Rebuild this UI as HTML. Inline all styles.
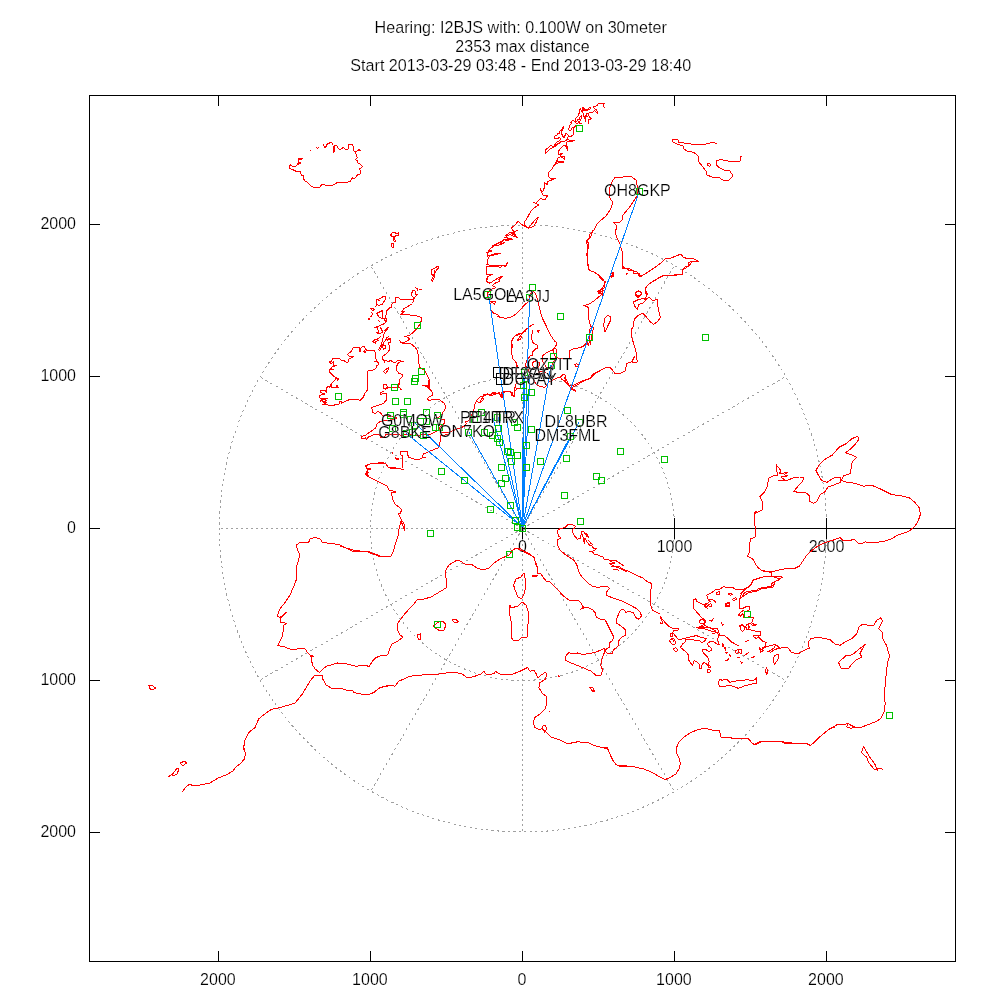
<!DOCTYPE html>
<html><head><meta charset="utf-8">
<style>
html,body{margin:0;padding:0;background:#fff;}
body{width:1000px;height:1000px;overflow:hidden;font-family:"Liberation Sans",sans-serif;}
svg{display:block;}
text{font-family:"Liberation Sans",sans-serif;font-size:16px;fill:#000;stroke:#fff;stroke-width:0.2px;}
svg{will-change:transform;}
.c{fill:none;stroke:#ff0000;stroke-width:1;stroke-linejoin:round;shape-rendering:crispEdges;}
.g{fill:none;stroke:#a0a0a0;stroke-width:1;stroke-dasharray:2 3;shape-rendering:crispEdges;}
.b{fill:none;stroke:#0080ff;stroke-width:1;shape-rendering:crispEdges;}
.s{fill:none;stroke:#00c000;stroke-width:1;shape-rendering:crispEdges;}
.k{fill:none;stroke:#000;stroke-width:1;}
</style></head><body>
<svg width="1000" height="1000" viewBox="0 0 1000 1000">
<rect width="1000" height="1000" fill="#fff"/>
<!-- TITLE -->
<g text-anchor="middle">
<text x="520.7" y="32.5" style="font-size:16.14px">Hearing: I2BJS with: 0.100W on 30meter</text>
<text x="522.5" y="51.5">2353 max distance</text>
<text x="520.8" y="70.5" style="font-size:16.15px">Start 2013-03-29 03:48 - End 2013-03-29 18:40</text>
</g>
<!-- FRAME -->
<g class="k" shape-rendering="crispEdges">
<rect x="89.5" y="95.5" width="866" height="866"/>
</g>
<!-- GRID -->
<g class="g">
<circle cx="522.5" cy="528.5" r="152" style="stroke-dasharray:2.2 3.3"/>
<circle cx="523" cy="528.5" r="303.5" style="stroke-dasharray:2.2 3.3"/>
<path d="M522.5 528.5L785.8 376.5" style="stroke-dasharray:2.31 3.46"/>
<path d="M522.5 528.5L674.5 265.2" style="stroke-dasharray:2.31 3.46"/>
<path d="M522.5 528.5L522.5 224.5" style="stroke-dasharray:2 3"/>
<path d="M522.5 528.5L370.5 265.2" style="stroke-dasharray:2.31 3.46"/>
<path d="M522.5 528.5L259.2 376.5" style="stroke-dasharray:2.31 3.46"/>
<path d="M522.5 528.5L218.5 528.5" style="stroke-dasharray:2 3"/>
<path d="M522.5 528.5L259.2 680.5" style="stroke-dasharray:2.31 3.46"/>
<path d="M522.5 528.5L370.5 791.8" style="stroke-dasharray:2.31 3.46"/>
<path d="M522.5 528.5L522.5 832.5" style="stroke-dasharray:2 3"/>
<path d="M522.5 528.5L674.5 791.8" style="stroke-dasharray:2.31 3.46"/>
<path d="M522.5 528.5L785.8 680.5" style="stroke-dasharray:2.31 3.46"/>
</g>
<path class="k" shape-rendering="crispEdges" d="M218.5 96V106M218.5 961V951M370.5 96V106M370.5 961V951M522.5 96V106M522.5 961V951M674.5 96V106M674.5 961V951M826.5 96V106M826.5 961V951M90 224.5H100M955 224.5H945M90 376.5H100M955 376.5H945M90 528.5H100M955 528.5H945M90 680.5H100M955 680.5H945M90 832.5H100M955 832.5H945M522.5 528.5H955M522.5 518V539M674.5 518V539M826.5 518V539"/>
<g text-anchor="end"><text x="76" y="228.8">2000</text><text x="76" y="380.8">1000</text><text x="76" y="532.8">0</text><text x="76" y="684.8">1000</text><text x="76" y="836.8">2000</text></g>
<g text-anchor="middle"><text x="217.9" y="985">2000</text><text x="369.9" y="985">1000</text><text x="521.9" y="985">0</text><text x="673.9" y="985">1000</text><text x="825.9" y="985">2000</text></g>
<g text-anchor="middle"><text x="522.5" y="552">0</text><text x="674.5" y="552">1000</text><text x="826.5" y="552">2000</text></g>

<!-- COAST -->
<path class="c" d="M323.5 144.5L324.5 147.5L325.8 147L327.5 143.5L331.5 142.5L333 145L333.2 152L334 152L334.5 145.5L336.8 145.8L338.5 149L340.5 149.2L343.2 147.5L345 149.2L348.5 149L348.5 144.5L352.2 144.5L353 146L354 151.2L356.5 151.2L359 149.5L360.5 150.5L357 151L355 153.2L356.5 154.5L357.2 157.5L355.5 159.8L357.5 160.5L358 163L360 164L362.5 166.5L359.5 169L360.5 171L360 174L357.5 175L354.5 178.5L352.5 177.8L350.5 181L348 182.2L337.5 182.5L332.5 185.3L325.5 185.3L324 184.5L321.5 184.8L319.5 187.5L313.5 187.5L311 186L307 182L305 181L303 178L304 176.2L302.5 175.5L301.5 175L300 171.5L297 171.5L295 170.8L292 169.2L289.5 168.5L289.2 167L290.5 164.5L292 166.2L295 166.5L298 164.5L297.5 163.5L301 163L298.5 162L299 160L301.5 159.8L302.5 158.8L298.5 158.5L298.5 160M316.2 147.5L317.5 148.5L318.5 147.5M310.3 150.5L310.7 150.5M390.5 235L392.5 232.5L395 232.5L397 234L398.5 233L398.5 235L396 235L395 236.5L394.5 239L395.5 241L394 241L393.5 237L392 236.5ZM391.5 243.5L393.5 244L393.5 247.5L392 247ZM438.5 265.5L438.5 268.5L436.5 269.5L435 273L434.5 277L432.5 281.5L431.5 280L433.5 276.5L432.5 274.5L431 274.5L431.5 272L432 269.5L434.5 268.5L436.5 267L438.5 265.5M434 269.5L434.5 273L433 276M412.5 290.5L415 291L415.5 294.5L417.5 294.5L415 297L414.5 299L412 296L411.5 294.5ZM415.5 287.5L417.5 289L418 291M419 290L422 289.2M395.5 298L398.5 297.5L400.5 299.5L414 299.5L412.5 303.5L409.5 305.5L404 308.5L402 311.5L404.5 311.2L403 312.5L400 315L404 314.2L408 314.5L412 315.5L419 316.2L421 317.5L421.5 320L420.5 323L419 325.5L416 329.5L412.5 333L409 335.5L404.5 336.5L407 337L410 339L407 341L404 342.5L401 342L399.5 340.5L401 342.5L404 344L408 343.2L411 344L415 347L417.5 351L418.5 356L418.5 361L419.5 367L421 368.5L424 370L426 373L429 378.5L429 383L430 386.5L428 386L424 385.5L428 386.5L429.5 390M395.5 298L395.5 302L393 303L391.5 305L392 308L389.5 307.8L387 310.5L386.5 314L385 317L386.5 319L386.2 322L383.5 324L380 325.5L375 327.5L377.5 328L378.5 332L376.5 333L380 333.5L383.5 331.5L387 328L388.5 327.5L384.5 332.5L383.5 336L382.5 340L381 345.5L378.5 350L380 350L382.5 344.5L384 345L382.5 347L383.5 349L385.5 348L385 345.5L383.5 344.5L384 342L386 340L388.5 339L390.5 340L391 342.5L388.5 343L389.5 347L389.5 350L386.5 353.5L382.5 356.5L383 359.5L384.5 362L385 360L388 361.5L391 360.5L393 362L396 362L398 360.5L403.5 361.5L400.5 361.5L398 363.5L396.5 366.5L396.5 370L398.5 373L402 374.5L402.5 376.5L400 379L399 382L399.5 384.5L398 385L399.5 387.5L401 390M376.5 300L380 298.5L383.5 296.5L385.5 296.5L385.5 299L382.5 304L379 305.5L376.5 304ZM378.5 300L380.5 300.5M375 306.5L377 305.8M370.5 308.5L373 308.2L374.5 309.5L372.5 310.5ZM371.5 312.5L372.5 314L371 317L370.5 316M368 318.5L369.5 318.5L369.5 319.5L368 319.5ZM376.5 313.5L382.5 310.5L382.8 318.5L379.5 317.5ZM382.8 318.5L386 318L384.5 320L386.2 322M378.5 320.5L379.5 322M380.5 327L381.5 330L383 331M372.5 342L375 339.5L377.5 339L381 336.5M373 342.5L376.5 341.5L378.5 340M375 344.5L375.5 341M386 338L388.5 336.5L385.5 340M387 340.5L390 338.5L391 342M383.2 371.5L388.5 367.5L388.5 369.5L385.5 373.5ZM353.5 347.5L359 347.5L360 348.5L359.5 352L360.5 351.5L361 350L360.5 348.5L362 347L364.5 346.5L365.5 349.5L364 351.5L365 352.5L366.5 350L373.5 350.3L375 351.5L375.8 358L376.5 361L374.5 361L376.5 361.5L378.5 362.5L378 365L376.5 366L376 368.5L373 370L369.5 370L367.5 371.5L368 378L367.5 390L364.5 394L363.5 397L361.5 399L360 400.5L356.5 399L355 399L353.5 400L349.5 399.5L344 402L341.5 403L341 401.5L339.5 401.8L339 404L334.5 405L327.5 405L325.5 404L323 404.5L326.5 402L322.5 402L327 400.5L324 399L320.5 401.5L322 399L327.5 398.5L324 398.5L319.5 398L320 395.5L323 394L325 394L320.5 392.5L321 390.5L325.5 390.5L326.5 392.5L326 389L328 386L329.5 387.5L331 384.5L331.5 387.5L335.5 387.5L337 385.5L338.5 387.5L331.5 387.5L331 384.5L334 381L336.5 378L339 379L337.5 380L336.5 378L334 376.5L331.5 374L329.5 372L329.5 369.5L333.5 369.5L331 368.5L332.5 366.5L336.5 365.5L333 365L333.5 362L331 363.5L329.5 362L331.5 361L332.5 358.5L339 358.5L342 360.5L344 360.5L346.5 362.5L348 362L348 359.5L352 357.5L353.5 356.5L349.5 356.2L347.5 354.5L351 351.5ZM399.5 380L400 381.5L398 384.5L399 387L401.5 389.2L399.5 387.5L388.5 387.2L386 389L384.5 390.5L380.5 393L380.5 394.5L383 393.5L386.5 393.5L387 398L386 400.5L383.5 403.5L379 405L374 406.5L371.5 408L372.5 410L372.5 412.5L375 413.5L378 411.5L380.5 413L383 416L386 415.5L390 416.5L394 417L397 418L394 419.5L390 420L380 421.5L377 424L375.5 428L370 432L365 435.5L361.5 436.5L362 438.5L365.5 438L366.5 439.5L368.5 437L373 435L379 434.5L381 437.5L384 438L385.5 434.5L392 434L398 434.5L402 435.5L408 434L410 434.5L415 435.5L420 435L430 434.5L435 432L439 430L440 427L443 425L445 422L444 419.5L440 419L437 418.5L438.5 417.2L441.5 415.5L442.5 413L444.5 410L445.8 407L444.5 403.5L440 400L433 399.5L429 400.5L427 399L429 397L432.5 395L432 392L430 389L427 386.5L423 385.5L427 386.5L429.5 387.5L428.5 384L428 380M383.5 384.5L386 384.5L387.5 387L386 388.5L383.5 388.5ZM449 434.5L440.5 435.5L440.5 440L439.5 445L438 448L430 451L423.5 454L422 457L425.5 458L423.5 457.5L419 459.5L414 459L409 457.5L407.5 454.5L407.5 451.5L400.5 451.5L401 455L402.5 456L402 469L403.5 469.5L398 468.5L395.5 468L393 468.5L390 468L388 467L386.5 464.5L383.5 462.5L380 462.5L377 463.5L372 463.5L368 464.5L365.5 466L367 468L371 469L367.5 469.5L367 471.5L368.5 473L365.5 473.5L366.5 475.5L369 477L371.5 478.5L375 480M393 452.5L392.5 454.5M395.5 458L398.5 458.5L398.5 459.5L396 459ZM605.2 108L604 106.8L603.2 105.2L604.4 103.6L598.4 103.6L597.2 105.2L595.2 106.4L593.2 106.8L594.4 108.4L596 109.6L598 112L597.2 113.2L595.6 111.6L594.4 110.4L592.8 112.4L590.4 112.8L588 113.2L586.4 114L587.2 116.8L585.6 116L585.6 121.6L584.8 117.6L583.2 115.6L583.6 113.6L582.4 112L583.2 110L584.8 110.8L588 110L590 109.2L590.4 107.6L588.8 108L587.2 109.6L584.8 109.6L583.6 108L582 107.2M588 113.2L588.8 116L590 117.6L591.2 118.8L590 120L588.8 119.2L588.4 123.6L588 120M582 107.2L583.2 109.2L581.6 111.2L580.4 108.8L579.2 110L580 111.6L578.8 114L577.6 116.8L576 118L575.2 120.4L576.4 121.6L577.6 120L579.2 119.6L580 116.8L581.6 115.2L581.2 118.4L580 120.8L578.4 122L580 123.6L581.6 124L578.8 122.8L576.4 123.2M576.4 123.2L575.2 121.6L572.8 120.4L570.8 122L571.6 123.6L569.6 125.2L569.2 127.6L568.4 129.6L570.8 130.8L572 128L573.6 127.6L575.6 125.6L573.6 128.8L573.6 132L573.2 134.8L571.6 136L568.8 136.4L567.6 134.4L566 133.2L564.8 136L564 137.6L562.4 136L561.6 132.8L562 130.4L563.2 128.8L564 127.6L563.2 126.4L562 129.6L560 131.2L559.6 133.6L557.6 133.2L556.8 135.2L554.8 136L554.4 138L557.2 138.4L560 137.6L560.8 139.6L559.2 140.8L556.4 142.4L554.8 144L555.6 146L557.2 144.8L559.2 143.2L560.4 142L564 141.6L566 140.4L568 137.6L567.6 139.6L570.8 140.8L575.2 140L570.8 142L567.6 141.6L566 143.2L566.4 145.6L568 147.2L567.6 150.4L566.8 148L565.6 145.6L564 145.2L562.4 146.8L560.8 148.4L559.2 150L558.4 152L558.8 154.4L560.8 153.6L562.4 153.2L560.4 154.8L561.6 156.8L564 156.4L564.4 159.6L562.8 157.6L560 156.8L558 158L556.8 160.8L559.2 161.6L563.6 162L559.2 162.8L556.4 163.2L554.4 164.8L554 166M559.2 143.2L556 144.4L554 146.4L550.4 145.6L548.4 148L546.4 148.8L545.2 151.2L545.6 153.2L548 151.2L550.4 148.8L553.2 147.2L555.2 146M557 161.2L554 165L551.7 169.5L548.7 172.5L548.7 177L551.7 179.2L555.5 178.2L551.7 180L548 181.5L547.2 184.5L544.2 182.2L545 186L542.7 192L540.5 189L542.7 195L548 195L545 199.5L540.5 198.7L536 203.2L533.7 202.5L539 204.7L534.5 207.7L530.7 211.5L527 218.2L524 222.7L525.5 225.7L528.5 228L534.5 220.5L538.2 217.5L536.7 221.2L533.7 226.5L528.5 228L522.5 225L518 221.2L515 225L511.2 228L513.5 231L516.5 237L513.5 233.2L509.7 232.5L506 235.5L509 240L512.7 239.2L504.5 239.2L501.5 241.5L497 243.7L492.5 246M717 143.4L712 142.4L706 144L694 144.4L684 143L678 142.4L678 139.6L672 139.6L672 141.6L677 144L683 146L684 149L687 151L694 152.4L698 156L699 162L702 166L706 171L707 175L712 177L718 177L723 180L729 180L733 176L730 171L725 170.4L720 168L716 165L717 160.4L721 159.6L728 161L736 162L740 161L740 157L742.4 156M707.6 163.6L710.4 164L710 166.4L708 165.6ZM638 190L636 180L631 176.4L623 177L615 177.6L613 180L610 187L609 194L610 198L613 203L610 210L606 216L600 221L597 224L594 230L590 234L589 239L586.4 241L588 248L587 254L587.6 262L589 270L596 273L601 277L605 282L604 288L600 291L598 294L602 293L603 296M638 190L637 196L633 202L629 208L623 215L622 220L619 223L613 222.4L616 225L617 227L615 232L617 238L620 244L622 251L622.4 260L623 266L622 268L627 268L629 271L633 270L634 274L639 273L640 277L645 274L651 270L657 266L662 262L665 259L671 258L676 256L681 254L683 257L688 259L693 258.4L699 261.6L692 262L689 266L685 267L682 270L682 274L674 275L666 275L660 277L654 281L649 284L646 287L645 291L647 296M611 273L613 274L612 277L610 276ZM626 274L628 273M635 293L639 291L642 293L640 296L637 295.6ZM517.7 230L514 232.2L511 233L514 235.2L517.7 237.5L513.2 236L509.5 234.5L505 237.5L511.7 239L508 240.5L503.5 239.7L500.5 243.5L505 242.7L499 245L496 245L492.2 247.2L488.5 250.2L491.5 251L487 252.5L487.7 256.2L494.5 254L500.5 253.2L496 254.7L490 255.5L487.7 259.2L487 264.5L490 265.2L496 265.7L505 266L508 262.2L505.7 266.7L502 265.2L500.5 267.5L496 266L490 266.7L486.2 266L487 270.5L486.2 275L492.2 274.2L487.7 276.5L487 280.2L486.2 278L487 281.7L490 283.2L494.5 280.2L499.7 277.2L502.7 276.5L499 279.5L499.7 281.7L496 282.5L492.2 285.5L496 287.7L491.5 289.2L489.2 291.5L487 293.7L487.7 297.5L489.2 300.5L492.2 302L496 301.2L494.5 304.2L491.5 302L490 305L490 309.5L493.7 313.2L497.5 314.7L499.7 317L497.5 316.2L500.5 317.7L506.5 318.2L511 317L516.2 314L520 310.2L523 306.5L526 303.5L528.2 302L529.7 296L531.2 293L533.5 291.5L535 293L536.5 296L538 302L539.5 308L541 314L543.2 320L546.2 326L548.5 331.2L551.5 336.5L554.5 341L556 341.7L556 345.5L553.7 348.5L553.7 352.2M569.5 350.7L574 348.5L580 347.7L584.5 345.5L586.7 341.7L588.2 345.5L589.7 341L589 335L589.7 329L593.5 327.5L590.5 326L589 320L588.2 314L589 309.5L587.5 306.5L583.7 305.7L589 304.2L593.5 301.2L598 297.5L601.7 294.5L603.2 290L600.2 292.2L598 291.5L602.5 287.7L604.7 284L605.5 281.7L601.7 279.5L598 275L594.2 272L589.7 270.5L588.2 267.5L587.5 260L586.7 254L588.2 248L588.2 242.7L586.7 240.5L590.5 237.5L592 233L592.7 230M593.5 327.2L592 335L590.2 344.7M604.7 318.5L607.7 315.5L610 316.2L610.7 320L607.7 326L606.2 329.7L604.7 332L603.7 324.5ZM534.2 323.7L530.5 326L526.7 329L523 332.7L517 334.2L513.2 338L511.7 341.7L512.5 348.5M523 332.7L520 336.5L517 341L520 339.5L522.2 335.7M537.2 330.2L539.2 330.8L538.3 332.7ZM525.6 331.2L519.6 334.2L514.8 336L511.8 340.8L511.2 348L511.8 354L513 358.8L516 362.4L517.2 366L516 369.6L516 375.6L517.2 381.6L515.4 385.2L514.8 388.8L514.2 395.4L511.8 396L511.8 393L509.4 391.4L501.6 392.4L501.6 397.8L501 396L498 393L492 395.4L487.2 394.8L483.6 395.4L481.8 399L480 402M532.8 330L531.6 336L532.2 342L534.6 343.8L537 345L537.6 348L535.2 349.2L532.8 351.6L532.8 355.2L530.4 355.8L528 358.8L526.2 361.2L525.6 366L528 369.6L530.4 374.4L532.8 378L535.2 382.8L537.6 385.8L541.2 386.4L544.8 387.6L547.2 384L549.6 381.6L552 380.4L556.8 378L560.4 377.4M561.6 375.6L564 373.8L565.8 376.2L564.6 378L566.4 379.8L564 380.4L561.6 379.2L560.4 377.4ZM566.4 379.8L568.8 385.2L572.4 385.8L580.8 381.6L590.4 378L595.2 373.2L600 371.4M568.8 386.4L572.4 388.8L575.4 390L575.4 391.2L570 388.8M542.4 355.8L547.2 352.2L552 350.4L554.4 348L556.8 349.8L556.8 354L555 358.8L552 364.8L550.2 368.4L546.6 368.4L544.8 364.8L542.4 361.2ZM553.8 352.3L554.4 355.8L558 358.2L564 358.8L569.4 358.2L569.5 350.8M574.8 364.8L576.6 363.6L578.4 364.8L577.8 366.6L576 367ZM532.8 362.4L536.4 360.6L539.4 363L538.8 367.2L535.2 368.4L532.8 366ZM537.6 372L542.4 371.4L546 372.6L542.4 373.8L537.6 372M698.7 261.8L694.2 261.5L689 262.2L688.2 266L686 268.2L682.2 269.7L683 274.2L677 275L671 275.7L662.7 275.7L657.5 278.7L653 281L649.2 284L646.2 287L645.5 290.7L647.7 293.7L646.2 296.7L644.7 299.7L649.2 297.5L652.2 300.5L657.5 299.7L657.8 306.5L659 311.7L660.5 317.7L657.5 321.5L653.7 324.5L650 321.5L647 317.7L642.5 313.2L638 315.5L634.2 319.2L633.5 326L631.2 329.7L632 338L634.2 345.5L636.5 353.7L637.2 362L632 362L635 356L631.2 362L626.7 363.5L625.2 371L620.7 373.2L615.5 374L612.5 370.2L609.5 367.2L605 368L599 371L592.2 374.7L590.7 378.5L584 380.7L578 384.5L572 387.5L575 391.2L571.2 388.2L568.2 385.2L565.2 381.5L563 380M635 293L638.7 290.7L641.7 292.2L641 295.2L638 297.5L635.7 295.2ZM633.5 302L638 299.7L644 298.2L646.2 299.7L642.5 303.5L638.7 304.2L637.2 309.5L635 306.5L634.2 304.2ZM610.2 273.5L613.2 272.7L614 275.7L611.7 277.2ZM622.2 266L625.2 268.2L629.7 269L633.5 271.2L637.2 272L638.7 275.7L641.7 275M626 274.2L628.2 273.5M439.6 432.8L448 432.8L456.4 429.2L464.8 426.2L466.6 423.2L464.8 422L468.4 420.8L470.8 417.2L473.8 410L475 404L476.8 400.4L480.4 396.8L486.4 395L493.6 393.8L499.6 392.6L500.8 396.8L502 398L502 391.4L509.2 391.4L512.8 393.2L512.2 395.6L514 396.8L514.6 392L516.4 389L520 388.4M476.8 401L479.2 402.8L482.8 400.4L484 398M482.8 395L487.6 393.8M491.2 393.2L496 392M365 466L370 464L380 463L386 464L388 467L396 468L401 469L403 469.6M365 466L368 469L366 473L369 477L375 480L381 483L387 486L389 490L393 491L396 492L391.6 493L392.4 499L395 504L400 508L401.6 510L400 514L398 513L401 519L404 524L405 531L403 526L401 521L399 529L398 536L396 542L393 552L391 556L383 557L375 554L367 551L360 551L353 550L346 548L340 546M366 468L371 469L367 470M540 573L538 573L537 566L534 558L530 554L524 551L519 548L514 549L509 555L500 559L494 563L489 568L483 570L477 568L471 564L465 564L460 561L457 560L449 565L446 570L445.6 576L447 582L446 588L441 591L431 597L424 599L417 600L414 604L410 608L403 616L398 623L397.6 630L400 635L403 637L398 641L392 644L389 650M524 573L525 578L526 586L524 594L521.6 599L518 597L515 590L513.6 585L516 579L521 577ZM522 602L526 605L529 614L528 624L527 637L521 638L518 641L513 640L511 637L512 626L510 616L509 608L510 605L511 608L518 606ZM433 626L438 622.4L443 621L446 625L444 630L440 631L437 629ZM452 620L456 619.6L458.4 622L455 623ZM417 635L421 633.6L420 637L421 640L418.4 639ZM532 576L537 576M390 556.2L381.2 557L372.5 553.8L366.2 551.2L352.5 551.2L338.8 544.5L322.5 542.5L320 538.8L315 537.5L310 538.8L308.8 542L300 542.5L296.2 545L297.5 550L299.5 553.8L298.8 560L297 565L296.2 580L293.8 586.2L290 595L285 602.5L280 608.8L277 616.2L280 617.5L286.2 612.5L280 618.8L280 622.5L284.5 622.5L286.2 623.8L283.8 625L282.5 636.2L280 641.2L277.5 645.8L282.5 646.2L292.5 650L297.5 648.8L305 648.8L307.5 652.5L310 655L313.2 656.2L310.8 656.2L312.5 665L315 668.8L319.5 672.5L326.2 666.2L331.2 665L337.5 663L346.2 663.8L356.2 666.2L366.2 665L368.8 667L372.5 661.2L376.2 657.5L381.2 655.5L387.5 655L390 648.8M243.2 750L245 740L248.8 732.5L255 727.5L258.8 718.8L265 713.8L271.2 709.5L280 707.5L295 703.2L302.5 693.8L310 681.2L314.5 675.5L322 675L322.5 678.8L326.2 685L332.5 688.8L342.5 688.8L346.2 690L352.5 690L353.8 692.5L360 693.8L367.5 695L373.8 692.5L380 687.5L390 685.5M148.8 685.8L152.5 685.5L155.5 688L152.5 690L150 688.8ZM244 748L245.6 754L244.4 759L240 764L236 767L233 771L226 775L218 778L210 783L200 785L194 785.6L189 784.4L185 788L182.4 791.6M180 763L185 761L186.4 763L183 765.6ZM172 775L177 768L179 769L177 774L173.6 776ZM168 777L172 774.4M380 687.5L390 685L395 686.2L398.8 681.2L410 676.2L422.5 675L435 674.5L450 672.5L461.2 673.2L467.5 678L475 676.2L481.2 673.8L483.8 671.2L486.2 674.5L493.8 673.8L495.5 671.2L498.8 673.8L505 675L512.5 674.2L520 671.2L527.5 667.5L530 671.2L533.8 670L536.2 673.8L537.5 678L541.2 675L545 672.5L547 673.8L545 679.5L540 682.5L538.8 687.5L542.5 693.8L546.2 696.2L547 702.5L545 708.8L540 713.8L535 717.5L533.2 722.5L535 727.5L538.8 729.5L542.5 728.8L542.5 726.2L545 725.5L547 728.8L544.5 732L542.5 728.8L547.5 733.8L551.2 737L560 740L567.5 743.8L577.5 741.8L587.5 742.5L596.2 746.2L607.5 748.8L611.2 756.2L613.8 762L617.5 765.5L630 766.2M565 657L568.8 652.5L572.5 653.8L577.5 653L582.5 654.5L595 652.5L603.8 648.8L606.2 649.5L603.8 653.8L602 658.8L600.8 665L602.5 670L601.2 675L596.2 675.5L591.2 671.2L582.5 667.5L575 664.5L568.8 662L565 660ZM558.2 675.8L559.5 677M589.5 687.5L593 688L594.5 691.2L592 690.5ZM548.8 710.8L550 711.8M600 747.6L607.6 748L609 752L612 759L616 764.4L619 766L632 766.4L644 769L652 772.4L660 777L665 779.6L669 778L676 774L679 769L680.4 763L679 758L677 754L676.4 748L679 742L684 737L691 732.4L698 729.6L705 728.4L712 730L719.6 731L721 737L724 738L730 737.4L734 739L740 738L748 738L751 742L754 744.4L760 741.6L770 741L782 741.4L786 743L791 742.4L794 744L800 743.2M510 551.7L516 548.3L522.7 551L528 554L534 557L535.5 563L537.7 569L537.7 573.5L540.7 573.5L543.7 578L546.7 581.7L549.7 581.7L555 587L559.5 591.5L562.5 595.2L569.2 600.2L578.2 600.2L581.2 603.5L583.5 607.2L580.5 609.2L584.2 607.7L588.7 608L592.5 609.5L595.5 613.2L596.2 617L600.7 619.2L605.2 620L607.5 624.5L610.5 630.5L613.5 636.5L612.7 640.2L609 643.2L609 647.7L603.7 650M532.5 575.4L537 575.4L537 576.2L532.5 576.2L532.5 575.4M613.5 650L618 646.2L618.7 641L621.7 637.2L625.5 635L625.5 629.7L621 626L616.5 623L616.8 618.5L619.5 611.7L621.7 609.5L624.7 610.2L625.5 612.2L630 611.7L633 612.5L636 617.7L639 619.2L641.2 616.2L640.8 612.5L636.7 608.7L630 605L622.5 601.2L613.5 598.2L606 595.2L606 593L609.3 588.5L607.5 586.7L603 586.2L598.5 587.3L593.2 586.7L588 583.2L582 577.2L579.3 572.7L576.7 564.5L573.7 560L565.5 554.7L560.2 550.2L557.2 544.2L557.7 539.7L561 538.2L558.7 536L557.2 530.7L560.2 528.5L564.7 527.7L567.7 524.7L572.2 524.7L575.2 526.2L574.5 528.5L572.2 529.2L573 533L575.2 536.7L577.5 539.3L580.5 538.2L581.2 533.7L582 531.5L584.2 531.5M582 533.7L583.5 539L584.2 543.5L585 538.2L587.2 542L589.5 545L591.7 545.7L594 548.7L597 548L594.7 550.2L591.7 551.7L594 554L597.7 554.7L600 556.2L603 557L604.5 560L608.2 559.2L612 562.2L615 563L609.7 563.7L613.5 566L618 566L621.7 568.2L626.2 570.5L628.5 571.2L633 573.5L637.5 575.7L642.7 578L647.2 581.7L651 583.2L651.7 587L650.2 591.5L651 597.5L650.2 603.5L651.7 608L652.5 610.2L657 612.5L660 613.7M584.2 532.2L587.2 534.5L588.7 537.5L586.5 536L584.2 532.2M588 539.7L591 543.5L593.2 545M589.5 551L594 552.5M609.7 560.7L615 560L619.5 563L624 566M611.2 566L618 567.5L622.5 569.7L627 572M613.5 569L618.7 570.2M603.7 650L605.5 651.2L607.7 653.5L612.2 653.9L613.4 650M589.7 687.2L592.7 687.7L594.7 690.7L592.7 691.7L591.2 689.5ZM660 616.2L662.4 619.2L665.4 622.8L669.6 627L673.2 628.8L678 628.4L678 630L673.8 630.6L672.6 632.4L675 635.4L677.4 638.4L679.2 639.6L682.2 639L684.6 638.4L688.8 637.2L693 636.6L696 635.4L700.2 637.2L706.2 638.4L705.6 640.2L702 642.6L699.6 640.8L694.8 640.2L690 639L685.8 639.6L685.2 642L682.2 644.4L680.4 647.4L683.4 649.8L687.6 653.4L688.8 656.4L688.2 659.4L690.6 663L692.4 665.4L694.2 660.6L696.6 661.8L699 664.2L699.6 668.4L701.4 668.4L702 664.8L703.8 662.4L706.2 663.6L708 665.4L709.2 661.2L708 657.6L705.6 655.2L703.2 652.8L702.6 649.8L706.2 649.8L708.6 651.6L711.6 650.4L711 648L708.6 646.2L707.4 643.2L710.4 641.4L714 642L717.6 644.4L719.4 645L717.6 639.6L718.8 634.8L717 632.4L711.6 631.2L704.4 628.8L698.4 628.2L696.6 627.6L700.8 626.4L704.4 624L706.2 621L701.4 617.4L697.2 612.6L693.4 608.4L693.6 600L696 598.8L696 600.6L699.6 603L703.8 604.8L705.6 607.2L707.4 608.4L705 604.2L708 603L710.4 601.2L708.6 600L707.4 597.6L706.8 595.2L710.4 593.4L714 591L716.4 589.2L720 589.2L723 586.8L727.2 587.2L732.6 587.4L736.2 589.8L740.4 589.8L745.2 588.6L748.8 586.8L751.8 583.8L753 580.2L757.8 578.4L762.6 577L771 576L771.6 573L766.8 571.2L760.8 570.6M771.6 576L775.8 577.8L779.4 578.4L780 579.6L776.4 580.8L772.8 582.6L771 585L774 585.6L770.4 586.2L765.6 587.4L760.8 588L758.4 591L754.8 590.4L751.2 591L746.4 591.6L743.4 594L741.6 597.6L739.8 599.4L739.2 603.6L739.8 608.4L742.8 608.4L746.4 606.6L750 606.6L749.4 609.6L746.4 611.4L742.8 610.8L740.4 612.6L738.6 615L740.4 616.2L742.8 613.8L744 617.4L750 616.8L752.4 617.4L754.2 618L752.4 619.8L751.8 622.8L754.2 624.6L757.2 624L754.8 625.8L752.4 625.2L750 622.8L748.2 624L749.4 627L748.2 629.4L751.2 630L756 631.2L760.2 631.8L760.2 635.4L757.8 636L762 640.8L766.2 642.6L765 646.8L762.6 648L763.2 650.4L760.8 652.2L759.6 648L762 649.8L765.6 646.8L770.4 645.6L775.8 644.4L774.6 647.4L771.6 649.8L768 651.6L770.4 652.2L774.6 649.8L778.8 648L780 648M745.2 588.6L742.8 591.6L740.4 595.8L739.8 599.4M716.4 592.2L719.4 591.8L719.4 594.6L716.4 594.6ZM728.4 594L730.8 593.4L732.6 594.6L730.2 595.4ZM725.4 603.6L729.6 602.4L729.6 606L725.4 606.6ZM726 604.2L729 603.6L729 605.4L726 605.8M732.6 599.4L735.6 597.6L736.8 598.8L733.8 600.6ZM708.6 600L711.6 599.4L714 600.6L715.8 602.4M703.8 604.8L706.2 603.8L707.4 606L705.6 607.8ZM708.6 604.2L711 603.8L711.6 606L709.2 606.6ZM709.2 621L711.6 620.4L713.4 618.6L711 622.2M721.2 622.2L722.4 625.2L724.2 624.6M696.6 627.6L701.4 627.4L708 627.6L712.8 628.2L717.6 628.8L718.8 632.4L720 635.4L723 636M701.4 626.4L705.6 625.8L711.6 628.8L715.8 631.2L714.6 633.6L711.6 633M699.6 620.4L702 619.4L704.4 621L703.8 623.4L700.8 624L699.4 622.4ZM720 635.4L724.8 636L728.4 638.4L732 642L735.6 644.4L738.6 645.6L736.8 646.2M727.2 637.8L730.8 641.4L733.8 643.8M739.8 625.8L742.2 624.6L744 626.4L744.6 629.4L742.8 631.4L741 630ZM746.4 624L748.8 624.6L748.2 627.6L749.4 629.4L747 630L745.8 627ZM753 636L757.2 635.4L759 636.6L756 638.4ZM745.4 642L749.4 639.6M744 655.8L748.8 652.2M751.2 657.6L754.8 656.4L753 658.2M722.2 643.8L723.6 644.4L723 646.8ZM724.6 647.4L725.8 648L725.4 650.4ZM725.4 652L727.2 652.2L726.6 653.4ZM729 654.6L730.8 656.4M725.4 661.2L728.4 658.8L727.2 660.6M735.4 650.4L738 649.8L738.6 652.8L736.2 653.4ZM738.6 649.4L741.6 649.2L741.6 653.4L739.2 652.8ZM737.4 657L740.4 657.6M739.8 661.8L742.8 662.4L741 663.6M773.4 658.2L775.2 655.2L778.8 654L778.8 657.6L776.4 661.8L774.6 664.2L773.4 661.2ZM766.2 667.8L767.4 669.6L768 673.2L766.8 674.4L765.6 671.4ZM718.4 682.2L720 679.4L722.4 680.4L724.8 679.4L727.2 679.8L729.6 682.2L734.4 681.6L738 680.4L744 680.2L748.8 679.4L750 681L754.8 679.8L756.6 678L756.6 683.4L752.4 684L750 684.6L744 685.8L741.6 687.4L738 688.2L734.4 686.6L730.8 685.8L727.2 685.8L723.6 686.6L720 687L718.8 684.6ZM707.4 669.6L709.8 669.4L711 671.4L708.6 673L707 671.4ZM708 665.4L709.8 665.4L710.4 667.2L708.6 667.4ZM670.6 633.6L672.6 633L673 636L670.8 636.6ZM669.6 640.8L671.4 638.4L674.4 639L675.6 643.2L673.8 645L671.4 643.8ZM671.4 639.6L673.8 640.2L673.2 642M673.8 648.6L675.6 647.8L678 649.8L676.2 651.6L674.2 650.6ZM660 617.4L661.8 620.4L663 624L660.6 623.4L660 621.6M771.9 571.6L763.1 571.2L758.7 568.3L755.4 563.9L753.2 559.5L747.7 556.2L749.9 550.7L749.2 544.1L751 538.6L755 537.5L755.8 532L754.3 521L754.3 512.2L756.5 511.1L755 513.3L762 510L762 501.2L759.8 496.8L764.2 492.4L767.5 485.8L768.6 478.1L773 475.9L777.4 475.9L776.3 464.9L780.7 470.4L779.6 473.7L787.3 472.6L784 474.8L787.3 475.9L780.7 477L785.1 480.3L778.5 481L787.3 480.3L792.8 478.1L799.4 477L803.8 477.4L802.7 481.4L798.3 485.8L793.9 491.3L799.4 492.8L806 492.8L809.3 495.7L809.3 501.2L813.7 503.4L817 501.2L820.3 494.6L824.7 492L828 486.9L834.6 484.7L840.1 482.5L840.1 477.4L833.5 478.1L826.9 482.5L821.4 480.3L818.1 474.8L815.9 470.4L819.2 464.9L824.7 459.4L832.4 455L839 447.3L845.6 444L852.2 438.5L857.7 436.3L858.8 439.6L855.5 444L850 449.5L845.6 452.8L852.2 455L856.6 457.2L852.2 461.6L851.1 468.2L850 473.7L843.4 475.9L841.2 480.3L847.8 482.5L854.4 483.2L863.2 486.2L872 485.4L880.8 489.1L891.8 494.6L900.6 495.7L909.4 497.9L914.9 502.3L919.3 507.8L920.4 514.4L918.2 521L914.9 526.5L908.3 531.6L898.4 534.7L891.8 538.6L884.1 541.3L872 543L865.4 541.9L859.9 544.1L856.6 541.9L854.4 539.1L848.9 540.8L843.4 540.8L840.1 537.5L834.6 539.7L826.9 541.9L818.1 545.7L810.4 551.8L806 556.2L799.4 566.1L795 568.3L784 569ZM771.9 571.6L771.9 576L762 577.1L753.2 580.4L749.9 585.9L744.4 590.3L740 593.6M771.9 576L782.9 577.1L775.2 581.5L773 587L766.4 588.1L759.8 589.2L758.7 588.1L756.5 591.4L748.8 592.5L742.2 596.9L740 599.1M776.3 644.9L779.6 648.2L787.3 647.1L791.7 652.6L798.3 653.7L803.8 650.4L809.3 648.2L808.2 642.7L810.4 639L817 637.2L823.6 638.3L830.2 639.8L834.6 643.8L840.1 645.3L845.6 641.6L852.2 638.3L856.6 633.9L858.8 627.3L862.1 624.4L867.6 625.1L873.8 625.1L876.4 620.7L880.4 617.8L882.6 620.7L880.4 625.1L878.6 628.4L882.6 632.8L883 639.4L886.3 644.9L887.9 650.4L889.6 655.9L887.9 661.4L886.3 672.4L885.2 685.6L884.1 694.4L885.2 703.2L884.1 712L880.8 718.6L875.3 721.9L867.6 724.8L859.9 727.9L854.4 727L847.8 723.5L846.7 727L851.1 728.5L854.4 727M847.8 723.5L843.4 724.8L836.8 724.8L831.3 727.9L825.8 731.8L819.2 737.3L813.7 742.8L810.4 745.5L806 743.3L797.2 743.9L791.7 743.3L785.1 743.3L781.8 741.7L762 741.7L755.4 744.6L752.1 743.3L747.7 738.4L740 738M828 729.6L834.6 727M838.6 662.5L845.6 655.9L852.2 654.8L858.8 649.3L865.4 644.2L862.1 649.3L859.9 653.7L862.1 657L855.5 660.3L851.1 664.7L848.9 668.4L841.2 668.4ZM863.7 746.1L861.5 752.7L866.5 757.1L868.7 762.6L874.2 769.2L877.5 770.3L874.7 763.7L869.8 757.1L865.9 750.5ZM877.5 768.1L883 769.2"/>
<!-- /COAST -->
<!-- DATA -->
<path class="b" d="M522.5 527.5L639.5 191M522.5 527.5L488.8 295.8M522.5 527.5L529.6 297.6M522.5 527.5L551.2 364.5M522.5 527.5L579 422.5M522.5 527.5L570 437M522.5 527.5L469 432M522.5 527.5L413.4 421.4M522.5 527.5L406.2 433.4M522.5 527.5L493 418M522.5 527.5L498 417M522.5 527.5L523.4 373M522.5 527.5L524.4 378M522.5 527.5L530 376"/>
<path class="s" d="M392.5 398.5h6v6h-6zM404.5 398.5h6v6h-6zM387.5 412.5h6v6h-6zM400.5 409.5h6v6h-6zM400.5 411.5h6v6h-6zM423.5 409.5h6v6h-6zM434.5 412.5h6v6h-6zM417.5 418.5h6v6h-6zM423.5 418.5h6v6h-6zM432.5 424.5h6v6h-6zM436.5 424.5h6v6h-6zM389.5 425.5h6v6h-6zM403.5 430.5h6v6h-6zM409.5 429.5h6v6h-6zM420.5 432.5h6v6h-6zM411.5 422.5h6v6h-6zM407.5 416.5h6v6h-6zM478.5 409.5h6v6h-6zM471.5 416.5h6v6h-6zM494.5 414.5h6v6h-6zM465.5 429.5h6v6h-6zM481.5 429.5h6v6h-6zM495.5 425.5h6v6h-6zM489.5 432.5h6v6h-6zM494.5 435.5h6v6h-6zM496.5 439.5h6v6h-6zM511.5 419.5h6v6h-6zM514.5 424.5h6v6h-6zM528.5 426.5h6v6h-6zM523.5 442.5h6v6h-6zM504.5 448.5h6v6h-6zM507.5 449.5h6v6h-6zM514.5 452.5h6v6h-6zM508.5 458.5h6v6h-6zM498.5 464.5h6v6h-6zM502.5 475.5h6v6h-6zM498.5 480.5h6v6h-6zM523.5 464.5h6v6h-6zM537.5 458.5h6v6h-6zM563.5 455.5h6v6h-6zM561.5 492.5h6v6h-6zM507.5 502.5h6v6h-6zM487.5 506.5h6v6h-6zM512.5 517.5h6v6h-6zM514.5 524.5h6v6h-6zM519.5 525.5h6v6h-6zM564.5 407.5h6v6h-6zM576.5 419.5h6v6h-6zM567.5 433.5h6v6h-6zM617.5 448.5h6v6h-6zM661.5 456.5h6v6h-6zM593.5 473.5h6v6h-6zM598.5 477.5h6v6h-6zM577.5 518.5h6v6h-6zM550.5 353.5h6v6h-6zM548.5 362.5h6v6h-6zM520.5 382.5h6v6h-6zM528.5 389.5h6v6h-6zM521.5 394.5h6v6h-6zM521.5 369.5h6v6h-6zM522.5 375.5h6v6h-6zM484.5 291.5h6v6h-6zM526.5 294.5h6v6h-6zM529.5 284.5h6v6h-6zM557.5 313.5h6v6h-6zM636.5 188.5h6v6h-6zM414.5 322.5h6v6h-6zM418.5 368.5h6v6h-6zM412.5 375.5h6v6h-6zM411.5 378.5h6v6h-6zM391.5 384.5h6v6h-6zM335.5 393.5h6v6h-6zM438.5 468.5h6v6h-6zM461.5 477.5h6v6h-6zM576.5 125.5h6v6h-6zM702.5 334.5h6v6h-6zM586.5 334.5h6v6h-6zM427.5 530.5h6v6h-6zM506.5 551.5h6v6h-6zM434.5 621.5h6v6h-6zM744.5 611.5h6v6h-6zM886.5 712.5h6v6h-6z"/>
<path class="k" shape-rendering="crispEdges" d="M493.5 367.5h7v10h-7zM496.5 373.5h7v11h-7z"/>
<g text-anchor="middle"><text x="637.4" y="195.5">OH8GKP</text><text x="485.2" y="299.5">LA5GOA</text><text x="527.8" y="302">LA3JJ</text><text x="549.5" y="369.5">OZ7IT</text><text x="576" y="426.5">DL8UBR</text><text x="567.4" y="440.5">DM3FML</text><text x="467" y="436.5">ON7KO</text><text x="412" y="426">G0MQW</text><text x="405" y="437.5">G8BKE</text><text x="488" y="422.5">PE1ITR</text><text x="496" y="422.5">PI4TRX</text></g>
<g text-anchor="start"><text x="498.5" y="378.5">DF2GU</text><text x="502.5" y="378.5">DL6AC</text><text x="502.5" y="384.5" letter-spacing="0.5">DC6AY</text></g>
<!-- /DATA -->
</svg>
</body></html>
